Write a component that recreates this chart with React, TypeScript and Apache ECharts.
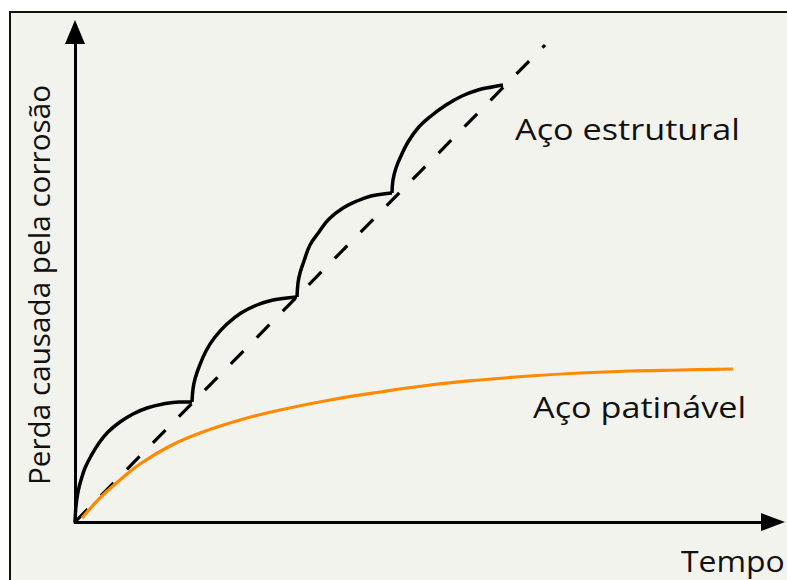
import React, { useEffect, useRef } from "react";
import * as echarts from "echarts";

// Coordinates: x = time units, y = loss units (arbitrary, no ticks shown)
const scallop1: [number, number][] = [
  [0, 0], [1, 16], [3, 30], [6, 42], [10, 54], [16, 66], [24, 79], [33, 90], [45, 100], [58, 108], [72, 114], [88, 118], [104, 120], [117, 120],
];
const scallop2: [number, number][] = [
  [117, 120], [118, 133], [120, 143], [124, 155], [131, 171], [140, 185], [152, 198], [166, 209], [182, 217], [198, 222], [212, 224], [222, 225],
];
const scallop3: [number, number][] = [
  [222, 225], [223, 239], [225, 249], [229, 261], [235, 277], [244, 290], [254, 303], [268, 314], [282, 321], [296, 326], [308, 328], [317, 329],
];
const scallop4: [number, number][] = [
  [317, 329], [318, 342], [321, 354], [326, 366], [333, 380], [343, 394], [356, 406], [371, 417], [387, 426], [403, 432], [417, 435], [428, 437],
];
const trendLine: [number, number][] = [[0, 0], [470, 477]];
const weatheringSteel: [number, number][] = [
  [7, 4], [25, 24], [45, 42], [65, 58], [95, 76], [125, 89], [165, 102], [205, 112], [255, 122], [305, 130],
  [355, 137], [405, 142], [455, 146], [505, 149], [555, 151], [605, 152], [658, 153],
];

const labelStructural = "Aço estrutural";
const labelWeathering = "Aço patinável";
const xName = "Tempo";
const yName = "Perda causada pela corrosão";

const FONT = "'Open Sans', 'DejaVu Sans', sans-serif";

export default function App() {
  const ref = useRef<HTMLDivElement>(null);
  useEffect(() => {
    if (!ref.current) return;
    const chart = echarts.init(ref.current, undefined, { renderer: "svg" });
    const scallopSeries = [scallop1, scallop2, scallop3, scallop4].map((d) => ({
      type: "line",
      data: d,
      smooth: 0.4,
      showSymbol: false,
      lineStyle: { color: "#000", width: 3.5 },
      z: 3,
    }));
    chart.setOption({
      animation: false,
      backgroundColor: "#ffffff",
      grid: { left: 75, top: 32, width: 698, height: 490 },
      xAxis: {
        type: "value",
        min: 0,
        max: 698,
        axisLine: {
          show: true,
          symbol: ["none", "triangle"],
          symbolSize: [18, 24],
          lineStyle: { color: "#000", width: 3 },
        },
        axisTick: { show: false },
        axisLabel: { show: false },
        splitLine: { show: false },
        z: 5,
      },
      yAxis: {
        type: "value",
        min: 0,
        max: 490,
        axisLine: {
          show: true,
          symbol: ["none", "triangle"],
          symbolSize: [20, 24],
          lineStyle: { color: "#000", width: 3 },
        },
        axisTick: { show: false },
        axisLabel: { show: false },
        splitLine: { show: false },
        z: 5,
      },
      graphic: [
        {
          type: "rect",
          shape: { x: 10, y: 12, width: 800, height: 600 },
          style: { fill: "#f3f3ee", stroke: "#111", lineWidth: 2 },
          z: -10,
          silent: true,
        },
        {
          type: "text",
          x: 515,
          y: 129,
          scaleX: 1.18,
          style: { text: labelStructural, font: `29px ${FONT}`, fill: "#111", textVerticalAlign: "middle" },
          z: 10,
        },
        {
          type: "text",
          x: 533,
          y: 407,
          scaleX: 1.18,
          style: { text: labelWeathering, font: `29px ${FONT}`, fill: "#111", textVerticalAlign: "middle" },
          z: 10,
        },
        {
          type: "text",
          x: 681,
          y: 561,
          scaleX: 1.1,
          style: { text: xName, font: `29px ${FONT}`, lineHeight: 30, fill: "#111", textVerticalAlign: "middle" },
          z: 10,
        },
        {
          type: "text",
          x: 38,
          y: 285,
          rotation: Math.PI / 2,
          style: { text: yName, font: `29.7px ${FONT}`, fill: "#111", textAlign: "center", textVerticalAlign: "middle" },
          z: 10,
        },
      ],
      series: [
        ...scallopSeries,
        {
          type: "line",
          data: trendLine,
          showSymbol: false,
          lineStyle: { color: "#000", width: 3.2, type: [18, 19] },
          z: 2,
        },
        {
          type: "line",
          data: weatheringSteel,
          smooth: 0.4,
          showSymbol: false,
          lineStyle: { color: "#ff8a00", width: 3.2 },
          z: 3,
        },
      ],
    });
    return () => chart.dispose();
  }, []);
  return <div ref={ref} style={{ position: "absolute", left: 0, top: 0, width: 787, height: 580 }} />;
}
